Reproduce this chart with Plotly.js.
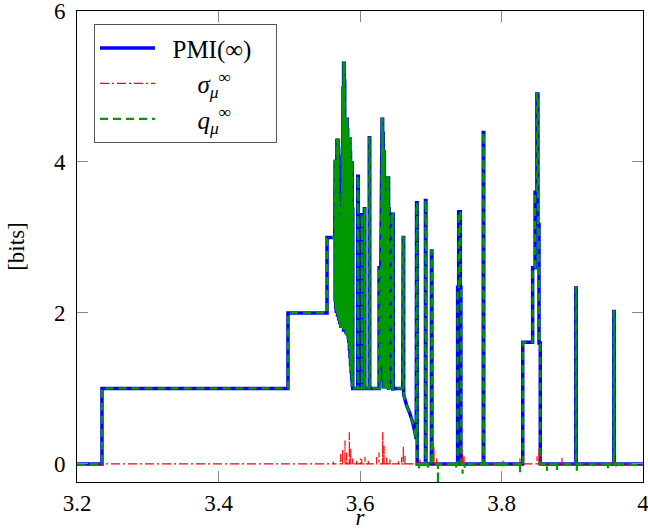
<!DOCTYPE html>
<html><head><meta charset="utf-8">
<script src="https://cdn.plot.ly/plotly-3.0.1.min.js"></script>
<style>html,body{margin:0;padding:0;background:#fff;} #chart{width:648px;height:530px;}</style>
</head><body><div id="chart"></div>
<script>
// PMI(inf) curve vertices (r, bits)
const pmiR = [3.2000,3.2353,3.2353,3.4982,3.4982,3.5534,3.5534,3.5644,
 3.5648,3.5648,3.5656,3.5656,3.5664,3.5664,3.5674,3.5674,3.5682,3.5682,3.5690,3.5690,
 3.5698,3.5698,3.5706,3.5706,3.5714,3.5714,3.5722,3.5722,3.5730,3.5730,3.5740,3.5740,
 3.5750,3.5750,3.5760,3.5760,3.5768,3.5768,3.5776,3.5776,3.5784,3.5784,3.5794,3.5794,
 3.5802,3.5802,3.5810,3.5810,3.5818,3.5818,3.5826,3.5826,3.5834,3.5834,3.5842,3.5842,
 3.5850,3.5850,3.5858,3.5858,3.5866,3.5866,3.5874,3.5874,3.5882,3.5882,3.5890,3.5890,3.5898,3.5898,
 3.5968,3.5968,3.5976,3.5976,3.6025,3.6025,3.6030,3.6030,3.6062,3.6062,3.6068,3.6068,
 3.6131,3.6131,3.6138,3.6138,3.6270,3.6270,3.6280,3.6280,
 3.6312,3.6312,3.6320,3.6320,3.6328,3.6328,3.6336,3.6336,3.6344,3.6344,3.6354,3.6354,
 3.6364,3.6364,3.6374,3.6374,3.6384,3.6384,3.6394,3.6394,3.6404,3.6404,3.6414,3.6414,
 3.6452,3.6452,3.6462,3.6462,3.6470,3.6470,
 3.6605,3.6610,3.6617,3.6617,3.6660,3.6700,3.6745,3.6775,3.6795,3.6800,3.6808,3.6808,
 3.6925,3.6925,3.6932,3.6932,3.7010,3.7010,3.7017,3.7017,
 3.7380,3.7380,3.7395,3.7395,3.7418,3.7418,3.7426,3.7426,
 3.7742,3.7742,3.7749,3.7749,
 3.8300,3.8300,3.8440,3.8440,3.8475,3.8475,3.8500,3.8500,3.8515,3.8515,3.8530,3.8530,3.8548,3.8548,
 3.9050,3.9050,3.9057,3.9057,3.9588,3.9588,3.9595,3.9595,4.0000];
const pmiV = [0,0,1,1,2,2,3,3,
 4.03,2.15,4.03,2.05,4.03,2.00,4.31,2.00,4.31,1.95,4.31,1.95,
 4.10,1.90,3.50,1.90,3.20,1.85,3.40,1.85,3.10,1.80,3.60,1.85,
 4.20,1.80,5.00,1.80,5.33,1.75,5.33,1.80,5.10,1.75,4.59,1.80,
 4.59,1.72,4.40,1.75,4.59,1.70,4.45,1.72,4.33,1.65,4.33,1.60,
 4.33,1.50,4.33,1.40,4.15,1.30,4.01,1.20,4.01,1.10,4.01,1.02,3.40,1.00,
 1.00,3.81,3.81,1.00,1.00,3.30,3.30,1.00,1.00,3.38,3.38,1.00,
 1.00,4.32,4.32,1.00,1.00,2.60,2.60,1.00,
 4.59,1.30,4.59,2.20,4.40,1.10,4.16,1.00,4.16,1.20,3.50,1.00,
 3.00,1.05,3.60,1.00,3.81,1.10,3.81,1.00,3.81,0.98,3.40,1.00,
 3.33,1.00,3.33,0.97,3.33,1.00,
 1.00,3.00,3.00,0.92,0.77,0.68,0.55,0.42,0.33,3.46,3.46,0,
 0,3.49,3.49,0,0,2.82,2.82,0,
 0,2.34,2.34,3.34,3.34,2.34,2.34,0,
 0,4.39,4.39,0,
 0,1.61,1.61,2.60,2.60,3.60,3.60,4.90,4.90,3.17,3.17,1.60,1.60,0,
 0,2.33,2.33,0,0,2.02,2.02,0,0];
// q_mu^inf: follows PMI, plus small negative excursions at these r
const qDipR = [3.6835,3.6960,3.7102,3.7360,3.7450,3.7480,3.8021,3.8262,3.8643,3.8784,3.9065,3.9505,3.9620];
const qDipV = [-0.06,-0.05,-0.35,-0.05,-0.13,-0.05,-0.04,-0.11,-0.09,-0.08,-0.09,-0.07,-0.05];
// sigma_mu^inf: zero with small positive spikes
const sigR = [3.5623,3.5727,3.5755,3.5788,3.5812,3.5849,3.5869,3.5897,3.5953,3.6005,3.6024,3.6071,3.6117,
 3.6236,3.6269,3.6321,3.6340,3.6378,3.6424,3.6542,3.6589,3.6612,3.6636,3.6801,3.6848,3.7046,3.7084,
 3.7450,3.7470,3.8021,3.8261,3.8502,3.8530,3.8560,3.8855,3.9576];
const sigV = [0.03,0.13,0.20,0.31,0.15,0.42,0.20,0.07,0.04,0.07,0.06,0.09,0.04,
 0.09,0.15,0.42,0.24,0.09,0.07,0.04,0.09,0.24,0.11,0.04,0.07,0.22,0.07,
 0.18,0.10,0.04,0.07,0.10,0.20,0.15,0.09,0.05];
const xTicks = [3.2,3.4,3.6,3.8,4];
const xTickText = ['3.2','3.4','3.6','3.8','4'];
const yTicks = [0,2,4,6];
const yTickText = ['0','2','4','6'];

// build q vertex list: insert dips into PMI path (dips lie where PMI is 0)
const qPts = pmiR.map((r,i)=>[r,pmiV[i]]);
qDipR.forEach((r,i)=>{ qPts.push([r,0]); qPts.push([r,qDipV[i]]); qPts.push([r,0]); });
qPts.sort((a,b)=> a[0]-b[0]);
const qR = qPts.map(p=>p[0]), qV = qPts.map(p=>p[1]);
const sR = [3.2], sV = [0];
sigR.forEach((r,i)=>{ sR.push(r,r,r); sV.push(0,sigV[i],0); });
sR.push(4); sV.push(0);

const FONT = '"Liberation Serif", serif';
const NB = '\u00a0';
const traces = [
 {x:pmiR,y:pmiV,type:'scatter',mode:'lines',name:NB+NB+'<span style="color:#000">PMI(∞)</span>'+NB+NB+NB,line:{color:'#0000ff',width:3.5,simplify:false}},
 {x:sR,y:sV,type:'scatter',mode:'lines',name:NB.repeat(6)+'<i>σ</i><sub><i>μ</i></sub><sup>∞</sup>',line:{color:'#ff0000',width:1.2,dash:'9px,3px,2px,3px',simplify:false}},
 {x:qR,y:qV,type:'scatter',mode:'lines',name:NB.repeat(6)+'<i>q</i><sub><i>μ</i></sub><sup>∞</sup>',line:{color:'#009900',width:2.2,dash:'8px,5px',simplify:false}}
];
const layout = {
 width:648,height:530,paper_bgcolor:'#fff',plot_bgcolor:'#fff',
 margin:{l:77,r:5,t:11,b:48},
 font:{family:FONT,size:23,color:'#000'},
 xaxis:{range:[3.2,4],tickvals:xTicks,ticktext:xTickText,ticks:'inside',ticklen:11,tickcolor:'#888',tickwidth:1,
   showline:true,linecolor:'#000',linewidth:1,mirror:'ticks',showgrid:false,zeroline:false,ticklabeloverflow:'allow',
   tickfont:{family:FONT,size:23,color:'#000'},title:{text:'<i>r</i>',font:{family:FONT,size:23},standoff:5}},
 yaxis:{range:[-0.24,6],tickvals:yTicks,ticktext:yTickText,ticks:'inside',ticklen:11,tickcolor:'#888',tickwidth:1,
   showline:true,linecolor:'#000',linewidth:1,mirror:'ticks',showgrid:false,zeroline:false,ticklabelstandoff:6,ticklabeloverflow:'allow',
   tickfont:{family:FONT,size:23,color:'#000'},title:{text:'[bits]',font:{family:FONT,size:23},standoff:22}},
 legend:{x:0.03,y:0.972,xanchor:'left',yanchor:'top',bgcolor:'#fff',bordercolor:'#555',borderwidth:1,
   font:{family:FONT,size:25,color:'#000'},itemwidth:55,tracegroupgap:0},
 showlegend:true
};
Plotly.newPlot('chart',traces,layout,{displayModeBar:false,staticPlot:true});
</script></body></html>
